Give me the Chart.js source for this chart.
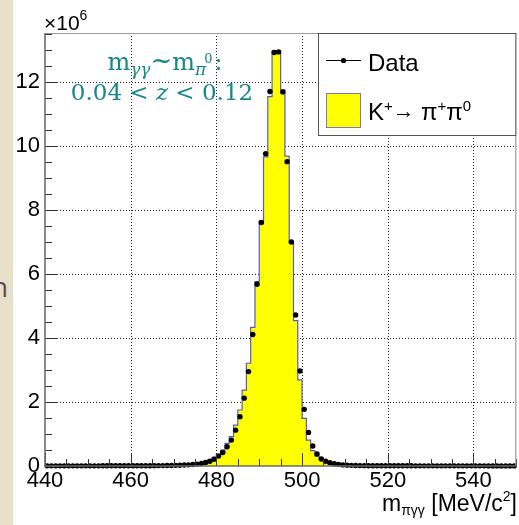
<!DOCTYPE html>
<html><head><meta charset="utf-8">
<script src="https://cdn.jsdelivr.net/npm/chart.js@4.4.0/dist/chart.umd.min.js"></script>
<style>
html,body{margin:0;padding:0;width:519px;height:525px;overflow:hidden;background:#e9e0c9;}
#slide{position:absolute;left:-9px;top:267px;font:28px "Open Sans",sans-serif;color:#5b4d5e;}
#panel{position:absolute;left:13px;top:0;width:506px;height:525px;background:#fff;}
canvas{position:absolute;left:0;top:0;}
</style></head><body>
<div id="slide">n</div>
<div id="panel"></div>
<canvas id="c" width="519" height="525"></canvas>
<script>
// m_pi-gamma-gamma histogram, 1 MeV bins from 440 to 550, counts in units of 10^6
const binLow = 440;
const binWidth = 1;
const dataCounts = [
  0.004,0.004,0.004,0.004,0.004,0.004,0.004,0.005,0.005,0.005,
  0.005,0.005,0.005,0.006,0.006,0.006,0.006,0.007,0.007,0.007,
  0.008,0.008,0.009,0.009,0.010,0.011,0.012,0.013,0.015,0.017,
  0.020,0.024,0.029,0.036,0.046,0.060,0.080,0.110,0.150,0.210,
  0.31,0.42,0.60,0.81,1.12,1.54,2.12,2.95,4.11,5.68,
  7.61,9.76,11.70,12.92,12.94,11.69,9.51,7.00,4.72,2.97,
  1.77,1.05,0.625,0.375,0.22,0.15,0.10,0.07,0.05,0.035,
  0.026,0.020,0.016,0.013,0.011,0.010,0.009,0.008,0.008,0.007,
  0.007,0.007,0.006,0.006,0.006,0.006,0.005,0.005,0.005,0.005,
  0.005,0.005,0.005,0.004,0.004,0.004,0.004,0.004,0.004,0.004,
  0.004,0.004,0.004,0.003,0.003,0.003,0.003,0.003,0.003,0.003
];
const mcCounts = [
  0.003,0.003,0.003,0.003,0.003,0.003,0.003,0.003,0.003,0.003,
  0.004,0.004,0.004,0.004,0.005,0.005,0.005,0.005,0.006,0.006,
  0.006,0.007,0.007,0.008,0.009,0.010,0.011,0.012,0.014,0.016,
  0.019,0.023,0.028,0.036,0.048,0.065,0.090,0.130,0.190,0.270,
  0.375,0.50,0.71,0.92,1.28,1.75,2.37,3.21,4.33,5.76,
  7.66,9.66,11.54,12.97,12.97,11.75,9.68,6.99,4.54,2.69,
  1.49,0.81,0.48,0.31,0.19,0.12,0.08,0.05,0.03,0.02,
  0.015,0.011,0.009,0.007,0.006,0.005,0.005,0.004,0.004,0.004,
  0.003,0.003,0.003,0.003,0.003,0.003,0.003,0.003,0.003,0.003,
  0.003,0.003,0.003,0.003,0.003,0.003,0.003,0.003,0.003,0.003,
  0.003,0.003,0.003,0.003,0.003,0.003,0.003,0.003,0.003,0.003
];
const xTickValues = [440, 460, 480, 500, 520, 540];
const yTickValues = [0, 2, 4, 6, 8, 10, 12];
const xMin = 440, xMax = 550, yMin = 0, yMax = 13.53;

const SANS = '"Liberation Sans", Arial, sans-serif';
const SERIF = '"DejaVu Serif", serif';
const TEAL = '#17878a';

const dataPts = dataCounts.map((v, i) => ({x: binLow + (i + 0.5) * binWidth, y: v}));
const mcPts = mcCounts.map((v, i) => ({x: binLow + i * binWidth, y: v}));
mcPts.push({x: binLow + mcCounts.length * binWidth, y: mcCounts[mcCounts.length - 1]});

function rich(ctx, x, y, parts, align) {
  let w = 0;
  for (const p of parts) { ctx.font = p[1]; w += ctx.measureText(p[0]).width + (p[3] || 0); }
  let cx = align === 'right' ? x - w : align === 'center' ? x - w / 2 : x;
  for (const p of parts) {
    ctx.font = p[1];
    ctx.fillText(p[0], cx, y + (p[2] || 0));
    cx += ctx.measureText(p[0]).width + (p[3] || 0);
  }
}
function seg(ctx, x1, y1, x2, y2) { ctx.beginPath(); ctx.moveTo(x1, y1); ctx.lineTo(x2, y2); ctx.stroke(); }

const rootPlugin = {
  id: 'rootStyle',
  beforeDatasetsDraw(chart) {
    const {ctx, chartArea: a, scales: {x, y}} = chart;
    ctx.save();
    ctx.strokeStyle = '#222'; ctx.lineWidth = 1; ctx.setLineDash([1, 2]);
    for (const v of xTickValues) {
      if (v <= xMin) continue;
      const px = Math.round(x.getPixelForValue(v)) + 0.5;
      seg(ctx, px, a.top, px, a.bottom);
    }
    for (const v of yTickValues) {
      if (v <= yMin) continue;
      const py = Math.round(y.getPixelForValue(v)) + 0.5;
      seg(ctx, a.left, py, a.right, py);
    }
    ctx.restore();
  },
  afterDatasetsDraw(chart) {
    const {ctx, chartArea: a, scales: {x, y}} = chart;
    ctx.save();
    // ticks (inside)
    ctx.strokeStyle = '#333'; ctx.lineWidth = 1;
    for (let v = xMin; v <= xMax; v += 5) {
      const px = Math.round(x.getPixelForValue(v)) + 0.5;
      const len = (v % 20 === 0) ? 13 : 7;
      seg(ctx, px, a.bottom, px, a.bottom - len);
    }
    for (let v = yMin; v <= yMax; v += 0.5) {
      const py = Math.round(y.getPixelForValue(v)) + 0.5;
      const len = (v % 2 === 0) ? 13 : 7;
      seg(ctx, a.left, py, a.left + len, py);
    }
    // frame
    ctx.strokeStyle = '#999'; ctx.lineWidth = 1.2;
    seg(ctx, a.left, a.top + 0.5, a.right, a.top + 0.5);
    seg(ctx, a.right - 0.5, a.top, a.right - 0.5, a.bottom);
    ctx.strokeStyle = '#6a6a6a'; ctx.lineWidth = 1.6;
    seg(ctx, a.left, a.top, a.left, a.bottom);
    seg(ctx, a.left, a.bottom, a.right, a.bottom);
    // legend box
    const lx = 318, ly = a.top, lw = a.right - 318, lh = 103;
    ctx.fillStyle = '#fff'; ctx.fillRect(lx, ly, lw, lh);
    ctx.strokeStyle = '#555'; ctx.lineWidth = 1;
    ctx.strokeRect(lx + 0.5, ly + 0.5, lw - 1, lh - 1);
    ctx.strokeStyle = '#000'; ctx.lineWidth = 1;
    seg(ctx, 326, 60.5, 361, 60.5);
    ctx.fillStyle = '#000'; ctx.beginPath(); ctx.arc(343.5, 60.5, 2.6, 0, Math.PI * 2); ctx.fill();
    ctx.fillStyle = '#ffff00'; ctx.fillRect(326, 93, 35, 35);
    ctx.strokeStyle = '#7a7ac8'; ctx.lineWidth = 1; ctx.strokeRect(326.5, 93.5, 34, 34);
    // texts
    ctx.fillStyle = '#000'; ctx.textBaseline = 'alphabetic';
    rich(ctx, 368, 71, [['Data', '24px ' + SANS]]);
    rich(ctx, 368, 120, [
      ['K', '24px ' + SANS], ['+', '15px ' + SANS, -9], ['\u2192 ', '22px ' + SANS, -2],
      ['\u03c0', '24px ' + SANS], ['+', '15px ' + SANS, -9],
      ['\u03c0', '24px ' + SANS], ['0', '15px ' + SANS, -9]
    ]);
    rich(ctx, 44, 30, [['\u00d710', '21px ' + SANS], ['6', '14px ' + SANS, -10]]);
    rich(ctx, 517, 511, [
      ['m', '23px ' + SANS], ['\u03c0\u03b3\u03b3', '14px ' + SANS, 4],
      [' [MeV/c', '23px ' + SANS], ['2', '14px ' + SANS, -10], [']', '23px ' + SANS]
    ], 'right');
    ctx.fillStyle = TEAL;
    rich(ctx, 165, 70, [
      ['m', '24px ' + SERIF], ['\u03b3\u03b3', 'italic 17px ' + SERIF, 5], ['~', '26px ' + SERIF, -1],
      ['m', '24px ' + SERIF], ['\u03c0', 'italic 17px ' + SERIF, 5, -2], ['0', '13px ' + SERIF, -7, 2],
      [':', '24px ' + SERIF]
    ], 'center');
    rich(ctx, 162, 100, [
      ['0.04 < ', '23px ' + SERIF], ['z', 'italic 23px ' + SERIF], [' < 0.12', '23px ' + SERIF]
    ], 'center');
    ctx.restore();
  }
};

new Chart(document.getElementById('c'), {
  data: {
    datasets: [
      {type: 'scatter', label: 'Data', data: dataPts, pointRadius: 2.7, pointHoverRadius: 2.7,
       backgroundColor: '#000', borderWidth: 0, showLine: false, clip: false, order: 0},
      {type: 'line', label: 'K+ -> pi+ pi0', data: mcPts, stepped: 'before', fill: 'origin',
       backgroundColor: '#ffff00', borderColor: '#5a5ac4', borderWidth: 1.2, pointRadius: 0, order: 1}
    ]
  },
  options: {
    responsive: false, devicePixelRatio: 1, animation: false,
    layout: {padding: {top: 33, right: 1, left: 0, bottom: 0}},
    plugins: {legend: {display: false}, tooltip: {enabled: false}},
    events: [],
    scales: {
      x: {type: 'linear', min: xMin, max: xMax,
          afterFit(s) { s.height = 59; },
          afterBuildTicks(s) { s.ticks = xTickValues.map(v => ({value: v})); },
          grid: {display: false, drawTicks: false}, border: {display: false},
          ticks: {color: '#000', font: {family: SANS, size: 22}, padding: 2, maxRotation: 0, autoSkip: false}},
      y: {type: 'linear', min: yMin, max: yMax,
          afterFit(s) { s.width = 45; },
          afterBuildTicks(s) { s.ticks = yTickValues.map(v => ({value: v})); },
          grid: {display: false, drawTicks: false}, border: {display: false},
          ticks: {color: '#000', font: {family: SANS, size: 22}, padding: 5, autoSkip: false}}
    }
  },
  plugins: [rootPlugin]
});
</script></body></html>
